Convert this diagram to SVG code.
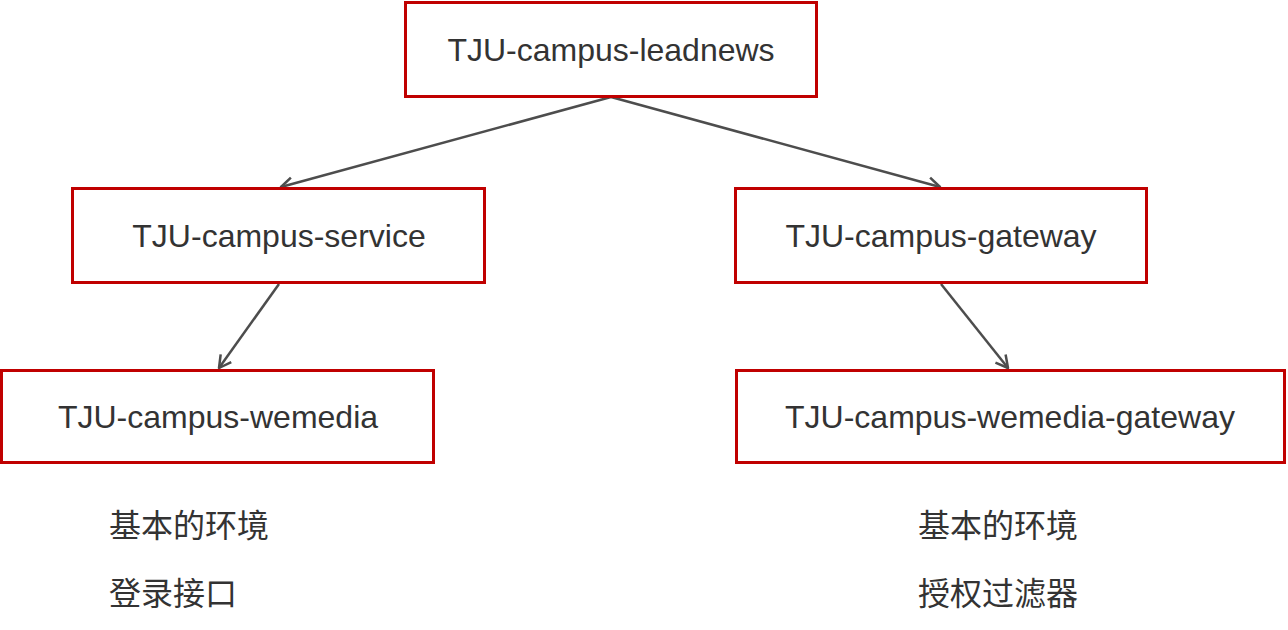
<svg xmlns="http://www.w3.org/2000/svg" width="1288" height="630" viewBox="0 0 1288 630">
<style>
.box{fill:#ffffff;stroke:#c00000;stroke-width:3}
.lbl{font-family:"Liberation Sans",Arial,sans-serif;font-size:32px;fill:#333333;text-anchor:middle}
.note{font-family:"Liberation Sans","Noto Sans CJK SC",sans-serif;font-size:32px;fill:#333333}
.edge{fill:none;stroke:#4d4d4d;stroke-width:2.5}
</style>
<defs>
<marker id="arr" markerUnits="userSpaceOnUse" markerWidth="16" markerHeight="16" viewBox="0 0 16 16" refX="14" refY="8" orient="auto">
<path d="M2,1.5 L14,8 L2,14.5" fill="none" stroke="#4d4d4d" stroke-width="2.5" stroke-linejoin="round"/>
</marker>
</defs>
<rect width="1288" height="630" fill="#ffffff"/>
<g id="connectors">
<line class="edge" x1="611" y1="97" x2="281" y2="187" marker-end="url(#arr)"/>
<line class="edge" x1="611" y1="97" x2="940" y2="187" marker-end="url(#arr)"/>
<line class="edge" x1="279" y1="284" x2="219" y2="368" marker-end="url(#arr)"/>
<line class="edge" x1="941" y1="284" x2="1008" y2="368" marker-end="url(#arr)"/>
</g>
<g id="leadnews">
<rect class="box" x="405.5" y="2.5" width="411" height="94"/>
<text class="lbl" x="611" y="61">TJU-campus-leadnews</text>
</g>
<g id="service">
<rect class="box" x="72.5" y="188.5" width="412" height="94"/>
<text class="lbl" x="279" y="247">TJU-campus-service</text>
</g>
<g id="gateway">
<rect class="box" x="735.5" y="188.5" width="411" height="94"/>
<text class="lbl" x="941" y="247">TJU-campus-gateway</text>
</g>
<g id="wemedia">
<rect class="box" x="1.5" y="370.5" width="432" height="92"/>
<text class="lbl" x="218" y="428">TJU-campus-wemedia</text>
</g>
<g id="wemedia-gateway">
<rect class="box" x="736.5" y="370.5" width="548" height="92"/>
<text class="lbl" x="1010" y="428">TJU-campus-wemedia-gateway</text>
</g>
<g id="notes-left">
<text class="note" x="109" y="537">基本的环境</text>
<text class="note" x="109" y="605">登录接口</text>
</g>
<g id="notes-right">
<text class="note" x="918" y="537">基本的环境</text>
<text class="note" x="918" y="605">授权过滤器</text>
</g>
</svg>
